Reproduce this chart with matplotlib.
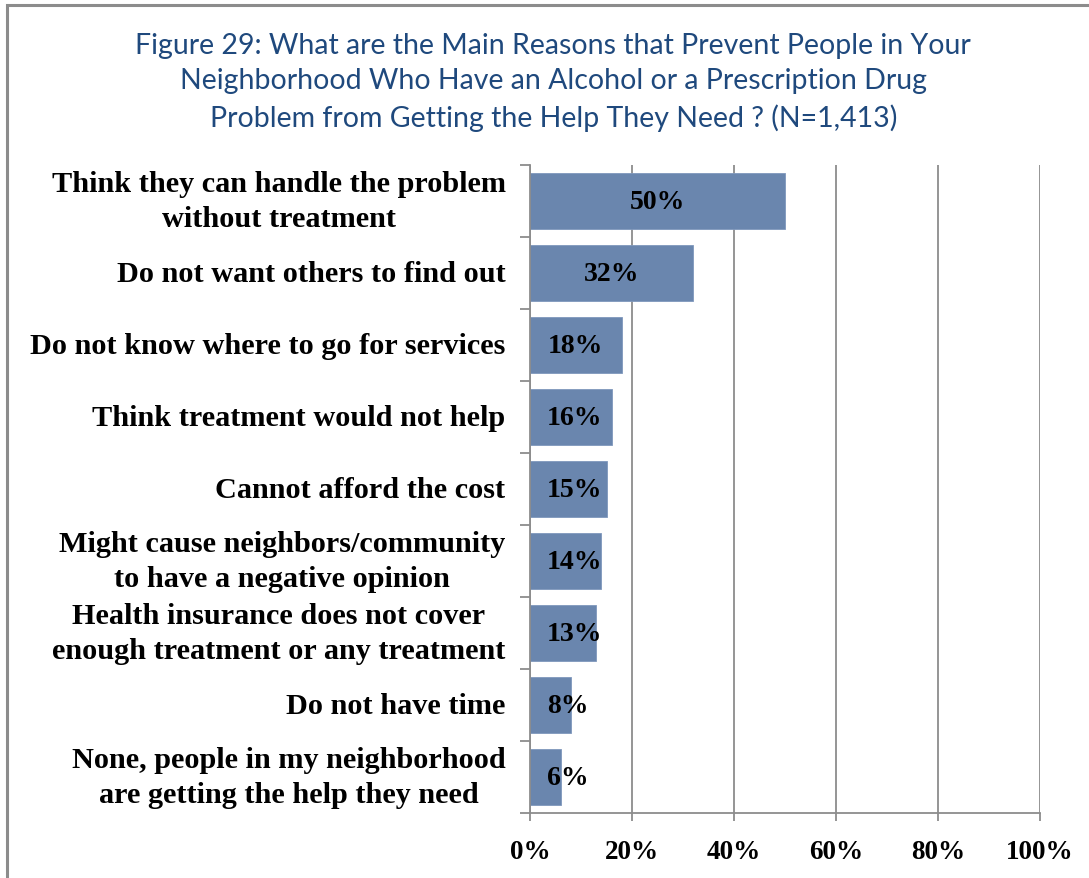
import matplotlib
matplotlib.use("Agg")
import matplotlib.pyplot as plt
from matplotlib.patches import Rectangle

# survey responses, top to bottom
reasons = [
    "Think they can handle the problem\nwithout treatment",
    "Do not want others to find out",
    "Do not know where to go for services",
    "Think treatment would not help",
    "Cannot afford the cost",
    "Might cause neighbors/community\nto have a negative opinion",
    "Health insurance does not cover\nenough treatment or any treatment",
    "Do not have time",
    "None, people in my neighborhood\nare getting the help they need",
]
percents = [50, 32, 18, 16, 15, 14, 13, 8, 6]
xticks = [0, 20, 40, 60, 80, 100]

title = ("Figure 29: What are the Main Reasons that Prevent People in Your\n"
         "Neighborhood Who Have an Alcohol or a Prescription Drug\n"
         "Problem from Getting the Help They Need ? (N=1,413)")

BAR = "#6A86AE"
GRID = "#8C8C8C"
serif = ["Liberation Serif", "DejaVu Serif"]

fig = plt.figure(figsize=(10.89, 8.79), dpi=100)

# chart border (only top and left edges fall inside the image)
fig.patches.append(Rectangle((0.0065, -0.1), 1.2, 1.093, transform=fig.transFigure,
                             fill=False, edgecolor="#8C8C8C", linewidth=2.2))

fig.text(0.508, 0.962, title, ha="center", va="top", fontsize=20.5,
         family=["Lato", "DejaVu Sans"], color="#1F497D", linespacing=1.43)

ax = fig.add_axes([0.4867, 0.0739, 0.4684, 0.7372])
n = len(reasons)
ypos = list(range(n))
ax.barh(ypos, percents, height=0.78, color=BAR, edgecolor="#7F98BC", linewidth=0.6, zorder=3)
ax.set_ylim(n - 0.5, -0.5)
ax.set_xlim(0, 100)

ax.set_xticks(xticks)
ax.set_xticklabels([f"{t}%" for t in xticks], family=serif, fontweight="bold", fontsize=19.5)
ax.tick_params(axis="x", length=6, width=1.3, color=GRID, pad=13)

# category names sit between the boundary ticks
ax.set_yticks([i - 0.5 for i in range(n + 1)])
ax.set_yticklabels([])
ax.tick_params(axis="y", length=7, width=1.3, color=GRID)
for i, lab in enumerate(reasons):
    ax.text(-4.8, i, lab, ha="right", va="center", multialignment="center",
            family=serif, fontweight="bold", fontsize=21.8, linespacing=1.36,
            transform=ax.transData, clip_on=False)

ax.xaxis.grid(True, color=GRID, linewidth=1.3, zorder=0)
for s in ["top", "right"]:
    ax.spines[s].set_visible(False)
for s in ["left", "bottom"]:
    ax.spines[s].set_color(GRID)
    ax.spines[s].set_linewidth(1.3)
    ax.spines[s].set_zorder(4)

# value labels: centred in the bar, kept clear of the axis for short bars
fig.canvas.draw()
renderer = fig.canvas.get_renderer()
inv = ax.transData.inverted()
x0_disp = ax.transData.transform((0, 0))[0]
for i, v in enumerate(percents):
    t = ax.text(v / 2, i, f"{v}%", ha="center", va="center", family=serif,
                fontweight="bold", fontsize=20, zorder=5)
    bb = t.get_window_extent(renderer)
    min_left = x0_disp + 17
    if bb.x0 < min_left:
        t.set_ha("left")
        t.set_x(inv.transform((min_left, 0))[0])

fig.savefig("out.png", dpi=100)
